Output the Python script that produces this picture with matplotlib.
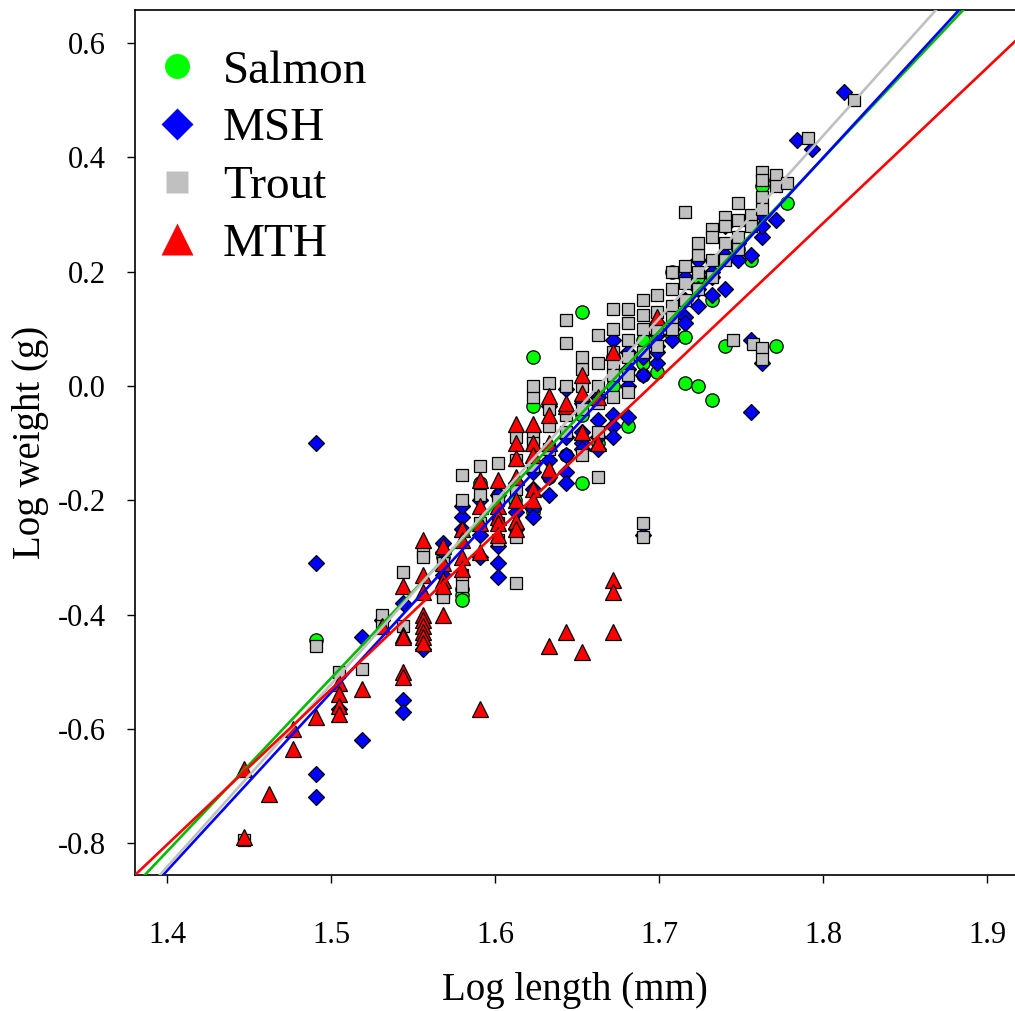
import numpy as np
import matplotlib
matplotlib.use("Agg")
import matplotlib.pyplot as plt
from matplotlib.lines import Line2D

plt.rcParams['font.family'] = ['Liberation Serif', 'DejaVu Serif']

# log10 length (mm) / log10 weight (g)
salmon_x = [1.491, 1.568, 1.580, 1.580, 1.580, 1.591, 1.602, 1.623, 1.623, 1.623,
            1.633, 1.643, 1.653, 1.653, 1.653, 1.663, 1.672, 1.672, 1.681, 1.690,
            1.690, 1.699, 1.708, 1.708, 1.716, 1.716, 1.724, 1.732, 1.732, 1.740,
            1.748, 1.756, 1.763, 1.771, 1.771, 1.778, 1.612, 1.653, 1.690, 1.724]
salmon_y = [-0.445, -0.30, -0.355, -0.365, -0.375, -0.17, -0.19, 0.05, -0.035, -0.22,
            -0.16, -0.12, 0.13, -0.03, -0.05, -0.10, 0.00, 0.05, -0.07, 0.02,
            0.04, 0.025, 0.20, 0.09, 0.005, 0.085, 0.0, -0.025, 0.15, 0.07,
            0.24, 0.22, 0.35, 0.07, 0.36, 0.32, -0.20, -0.17, 0.08, 0.19]

msh_x = [1.491, 1.491, 1.491, 1.491, 1.505, 1.519, 1.519, 1.531, 1.544, 1.544,
         1.544, 1.556, 1.568, 1.568, 1.580, 1.580, 1.591, 1.591, 1.591, 1.602,
         1.602, 1.602, 1.602, 1.613, 1.613, 1.613, 1.623, 1.623, 1.623, 1.633,
         1.633, 1.633, 1.633, 1.643, 1.643, 1.643, 1.643, 1.653, 1.653, 1.653,
         1.653, 1.663, 1.663, 1.663, 1.672, 1.672, 1.672, 1.672, 1.681, 1.681,
         1.681, 1.690, 1.690, 1.690, 1.699, 1.699, 1.699, 1.699, 1.708, 1.708,
         1.708, 1.716, 1.716, 1.716, 1.724, 1.724, 1.724, 1.732, 1.732, 1.732,
         1.740, 1.740, 1.740, 1.748, 1.748, 1.756, 1.756, 1.756, 1.763, 1.763,
         1.763, 1.763, 1.771, 1.784, 1.793, 1.813, 1.568, 1.580, 1.623, 1.643,
         1.663, 1.681, 1.699, 1.716]
msh_y = [-0.10, -0.31, -0.68, -0.72, -0.565, -0.44, -0.62, -0.41, -0.38, -0.55,
         -0.57, -0.46, -0.275, -0.29, -0.23, -0.21, -0.30, -0.26, -0.20, -0.28,
         -0.31, -0.335, -0.19, -0.22, -0.25, -0.17, -0.215, -0.23, -0.15, -0.13,
         -0.16, -0.19, -0.035, -0.12, -0.15, -0.17, -0.005, -0.08, -0.10, -0.11,
         -0.03, -0.06, -0.09, -0.11, -0.05, -0.07, -0.09, 0.08, -0.055, 0.03,
         0.00, -0.26, 0.02, 0.05, 0.04, 0.07, 0.09, 0.06, 0.10, 0.13,
         0.08, 0.12, 0.15, 0.11, 0.22, 0.14, 0.17, 0.19, 0.20, 0.16,
         0.17, 0.28, 0.23, 0.22, 0.25, -0.045, 0.08, 0.23, 0.04, 0.26,
         0.28, 0.30, 0.29, 0.43, 0.415, 0.515, -0.33, -0.25, -0.18, -0.09,
         -0.02, 0.06, 0.11, 0.19]

trout_x = [1.447, 1.491, 1.505, 1.519, 1.531, 1.531, 1.544, 1.544, 1.556, 1.556,
           1.568, 1.568, 1.568, 1.580, 1.580, 1.580, 1.580, 1.591, 1.591, 1.591,
           1.602, 1.602, 1.602, 1.602, 1.613, 1.613, 1.613, 1.613, 1.613, 1.623,
           1.623, 1.623, 1.623, 1.623, 1.633, 1.633, 1.633, 1.633, 1.643, 1.643,
           1.643, 1.643, 1.643, 1.653, 1.653, 1.653, 1.653, 1.663, 1.663, 1.663,
           1.663, 1.663, 1.663, 1.672, 1.672, 1.672, 1.672, 1.672, 1.681, 1.681,
           1.681, 1.681, 1.681, 1.681, 1.690, 1.690, 1.690, 1.690, 1.690, 1.690,
           1.699, 1.699, 1.699, 1.708, 1.708, 1.708, 1.708, 1.716, 1.716, 1.716,
           1.716, 1.724, 1.724, 1.724, 1.732, 1.732, 1.732, 1.732, 1.740, 1.740,
           1.740, 1.745, 1.748, 1.748, 1.748, 1.757, 1.756, 1.756, 1.763, 1.763,
           1.763, 1.763, 1.763, 1.763, 1.771, 1.771, 1.778, 1.791, 1.819, 1.653,
           1.672, 1.699, 1.708, 1.724, 1.740, 1.748]
trout_y = [-0.795, -0.455, -0.50, -0.495, -0.40, -0.42, -0.325, -0.42, -0.29, -0.30,
           -0.31, -0.36, -0.37, -0.155, -0.20, -0.33, -0.35, -0.14, -0.19, -0.24,
           -0.135, -0.20, -0.24, -0.27, -0.09, -0.13, -0.18, -0.265, -0.345, -0.09,
           -0.10, -0.14, -0.02, 0.0, -0.04, -0.07, -0.11, 0.005, 0.115, 0.075,
           -0.05, -0.08, 0.0, -0.04, 0.03, 0.05, -0.12, -0.16, 0.09, 0.04,
           0.0, -0.03, -0.08, 0.04, 0.06, 0.10, 0.135, -0.02, 0.08, 0.11,
           0.135, 0.05, 0.02, -0.01, 0.10, 0.125, 0.15, 0.06, -0.24, -0.265,
           0.16, 0.13, 0.10, 0.20, 0.17, 0.14, 0.12, 0.305, 0.21, 0.18,
           0.15, 0.23, 0.20, 0.17, 0.275, 0.26, 0.22, 0.19, 0.295, 0.28,
           0.25, 0.08, 0.32, 0.29, 0.26, 0.073, 0.30, 0.28, 0.375, 0.36,
           0.33, 0.31, 0.067, 0.047, 0.37, 0.35, 0.355, 0.435, 0.50, 0.0,
           0.02, 0.07, 0.10, 0.25, 0.22, 0.24]

mth_x = [1.447, 1.447, 1.462, 1.477, 1.477, 1.491, 1.505, 1.505, 1.505, 1.505,
         1.519, 1.544, 1.544, 1.544, 1.544, 1.544, 1.556, 1.556, 1.556, 1.556,
         1.556, 1.556, 1.556, 1.556, 1.556, 1.568, 1.568, 1.568, 1.568, 1.580,
         1.580, 1.580, 1.580, 1.591, 1.591, 1.591, 1.591, 1.602, 1.602, 1.602,
         1.602, 1.602, 1.613, 1.613, 1.613, 1.613, 1.613, 1.613, 1.623, 1.623,
         1.623, 1.623, 1.623, 1.633, 1.633, 1.633, 1.633, 1.643, 1.643, 1.643,
         1.653, 1.653, 1.653, 1.653, 1.663, 1.663, 1.672, 1.672, 1.672, 1.672,
         1.699, 1.531, 1.568, 1.591, 1.613, 1.633]
mth_y = [-0.67, -0.79, -0.715, -0.60, -0.635, -0.58, -0.52, -0.54, -0.56, -0.575,
         -0.53, -0.35, -0.435, -0.44, -0.50, -0.51, -0.27, -0.33, -0.36, -0.40,
         -0.41, -0.42, -0.43, -0.44, -0.45, -0.28, -0.34, -0.35, -0.40, -0.25,
         -0.27, -0.30, -0.32, -0.165, -0.21, -0.29, -0.565, -0.165, -0.21, -0.23,
         -0.24, -0.26, -0.067, -0.10, -0.126, -0.20, -0.236, -0.25, -0.067, -0.10,
         -0.12, -0.18, -0.20, -0.018, -0.05, -0.145, -0.455, -0.035, -0.03, -0.43,
         0.02, -0.012, -0.08, -0.465, -0.02, -0.10, 0.06, -0.34, -0.36, -0.43,
         0.12, -0.42, -0.31, -0.24, -0.16, -0.10]

# fitted regression lines: intercept, slope
fit_intercept = [-5.064, -5.2165, -5.322, -4.611]
fit_slope = [3.035, 3.12, 3.20, 2.72]

names = ['Salmon', 'MSH', 'Trout', 'MTH']
face = ['#00ff00', '#0000ff', '#c0c0c0', '#ff0000']
line_col = ['#00bb00', '#0000ff', '#c0c0c0', '#ff0000']
marks = ['o', 'D', 's', '^']
msize = [9.6, 8.4, 9.2, 11.8]
leg_size = [18, 15.8, 16.5, 23]

fig = plt.figure(figsize=(10.15, 10.11), dpi=100)
ax = fig.add_axes([0.133, 0.1345, 0.867, 0.8555])

data = [(salmon_x, salmon_y), (msh_x, msh_y), (trout_x, trout_y), (mth_x, mth_y)]
for i, (xs, ys) in enumerate(data):
    ax.plot(xs, ys, linestyle='none', marker=marks[i], markersize=msize[i],
            markerfacecolor=face[i], markeredgecolor='black',
            markeredgewidth=0.9, zorder=2 + i)

xx = np.array([1.37, 1.93])
for i in range(4):
    ax.plot(xx, fit_intercept[i] + fit_slope[i] * xx, color=line_col[i],
            linewidth=1.9, zorder=10)

ax.set_xlim(1.3805, 1.917)
ax.set_ylim(-0.856, 0.658)
ax.set_xticks([1.4, 1.5, 1.6, 1.7, 1.8, 1.9])
ax.set_yticks([-0.8, -0.6, -0.4, -0.2, 0.0, 0.2, 0.4, 0.6])
ax.set_xticklabels(['1.4', '1.5', '1.6', '1.7', '1.8', '1.9'])
ax.set_yticklabels(['-0.8', '-0.6', '-0.4', '-0.2', '0.0', '0.2', '0.4', '0.6'])
ax.tick_params(direction='out', length=6, width=1, labelsize=22)
ax.tick_params(axis='x', pad=27)
ax.tick_params(axis='y', pad=15)
ax.spines['right'].set_visible(False)
for s in ['left', 'top', 'bottom']:
    ax.spines[s].set_linewidth(1.2)

ax.set_xlabel('Log length (mm)', fontsize=28, labelpad=16)
ax.set_ylabel('Log weight (g)', fontsize=28, labelpad=6)

handles = [Line2D([], [], linestyle='none', marker=marks[i], markersize=leg_size[i],
                  markerfacecolor=face[i], markeredgecolor='none')
           for i in range(4)]
ax.legend(handles, names, loc='upper left', bbox_to_anchor=(0.0, 0.987),
          frameon=False, fontsize=34, handlelength=0.6, handletextpad=0.66,
          labelspacing=0.31, borderaxespad=0.2, borderpad=0.4)

fig.savefig('out.png', dpi=100)
